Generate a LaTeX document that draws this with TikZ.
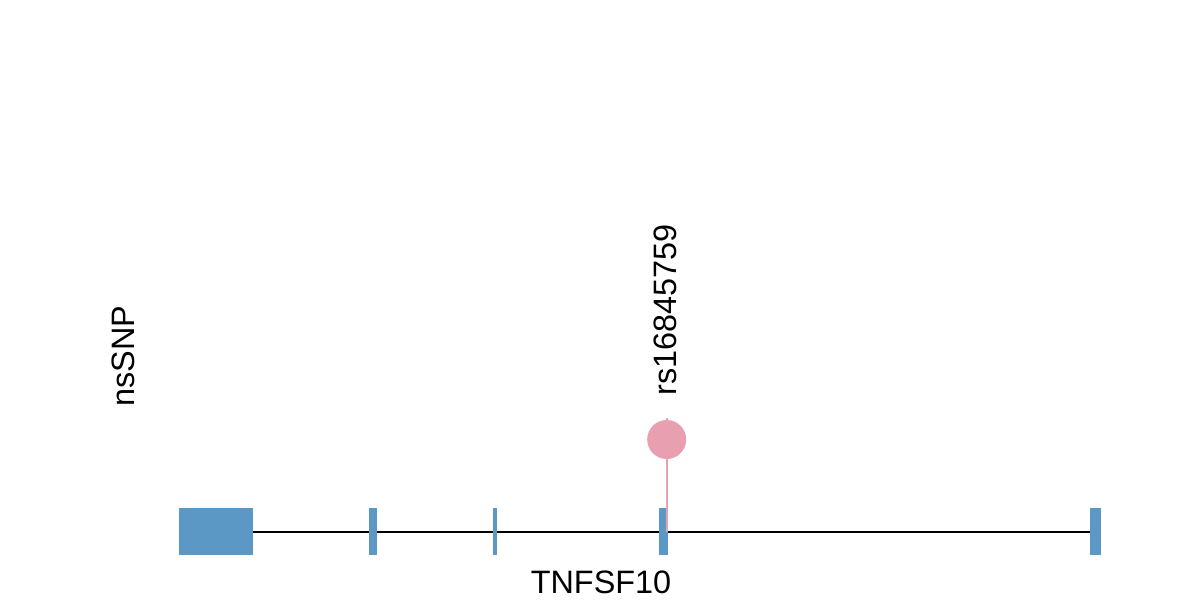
\documentclass[tikz,border=0pt]{standalone}
\usepackage{fontspec}
\setmainfont{Liberation Sans}
\definecolor{exonblue}{RGB}{91,152,198}
\definecolor{snppink}{RGB}{232,160,176}
\begin{document}
\begin{tikzpicture}[x=0.5pt,y=-0.5pt,
  exon/.style={fill=exonblue,draw=none},
  lbl/.style={inner sep=0pt,font=\fontsize{16.2pt}{19pt}\selectfont},
  snp/.style={circle,fill=snppink,draw=none,minimum size=19.5pt,inner sep=0pt}]
\useasboundingbox (0,0) rectangle (1200,600);
% intron line
\coordinate (ls) at (253,532);
\coordinate (le) at (1090,532);
\draw[line width=1pt] (ls) -- (le);
% exons
\fill[exon] (179,508) rectangle (253,555);
\fill[exon] (369,508) rectangle (376.5,555);
\fill[exon] (493,508) rectangle (497,555);
\fill[exon] (659,508) rectangle (668,555);
\fill[exon] (1090,508) rectangle (1101,555);
% SNP
\coordinate (stemtop) at (666.7,418);
\coordinate (stembot) at (666.7,532);
\draw[snppink,line width=1pt] (stemtop) -- (stembot);
\node[snp] (s1) at (666.7,439.5) {};
\node[lbl,rotate=90] (rs) at (665,310) {rs16845759};
\node[lbl,rotate=90] (ns) at (123,356) {nsSNP};
\node[lbl] (gene) at (601,582) {TNFSF10};
\end{tikzpicture}
\end{document}
